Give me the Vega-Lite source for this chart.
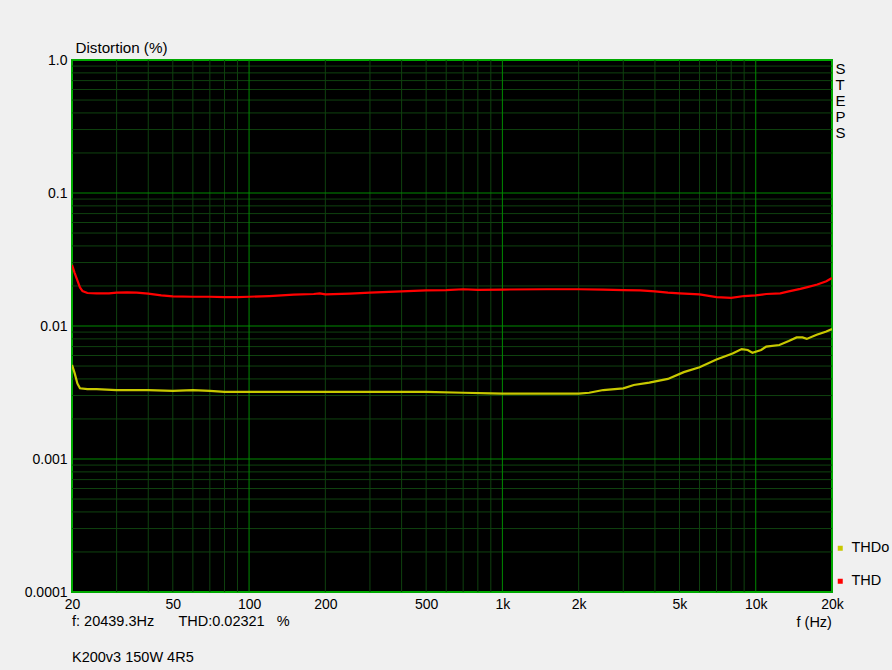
{
  "$schema": "https://vega.github.io/schema/vega-lite/v6.json",
  "width": 760,
  "height": 532,
  "autosize": {"type": "none"},
  "padding": {"left": 72, "top": 60, "right": 60, "bottom": 78},
  "background": "#f0f0f0",
  "config": {
    "font": "Liberation Sans",
    "view": {"fill": "#000000", "stroke": "#00a800", "strokeWidth": 2},
    "axis": {"domain": false, "ticks": false, "grid": false, "labelColor": "#000000", "titleColor": "#000000", "labelFont": "Liberation Sans", "titleFont": "Liberation Sans", "labelFontSize": 14, "titleFontSize": 14.5, "titleFontWeight": "normal"},
    "title": {"font": "Liberation Sans", "fontWeight": "normal", "fontSize": 14.5, "color": "#000000", "subtitleFont": "Liberation Sans", "subtitleFontSize": 14.5, "subtitleColor": "#000000"}
  },
  "title": {
    "text": "f: 20439.3Hz\u00a0\u00a0\u00a0\u00a0\u00a0\u00a0THD:0.02321\u00a0\u00a0\u00a0%",
    "subtitle": "K200v3 150W 4R5",
    "orient": "bottom",
    "anchor": "start",
    "frame": "group",
    "offset": -14,
    "subtitlePadding": 22
  },
  "datasets": {
    "curves": [
      {"f": 20, "v": 0.0288, "s": "THD"},
      {"f": 20.5, "v": 0.025, "s": "THD"},
      {"f": 21, "v": 0.022, "s": "THD"},
      {"f": 21.5, "v": 0.0195, "s": "THD"},
      {"f": 22, "v": 0.0183, "s": "THD"},
      {"f": 23, "v": 0.0177, "s": "THD"},
      {"f": 25, "v": 0.0176, "s": "THD"},
      {"f": 28, "v": 0.0176, "s": "THD"},
      {"f": 30, "v": 0.0178, "s": "THD"},
      {"f": 33, "v": 0.0179, "s": "THD"},
      {"f": 36, "v": 0.0178, "s": "THD"},
      {"f": 40, "v": 0.0175, "s": "THD"},
      {"f": 45, "v": 0.017, "s": "THD"},
      {"f": 50, "v": 0.0167, "s": "THD"},
      {"f": 60, "v": 0.0166, "s": "THD"},
      {"f": 70, "v": 0.0166, "s": "THD"},
      {"f": 80, "v": 0.0165, "s": "THD"},
      {"f": 90, "v": 0.0165, "s": "THD"},
      {"f": 100, "v": 0.0166, "s": "THD"},
      {"f": 120, "v": 0.0168, "s": "THD"},
      {"f": 150, "v": 0.0172, "s": "THD"},
      {"f": 180, "v": 0.0174, "s": "THD"},
      {"f": 190, "v": 0.0176, "s": "THD"},
      {"f": 200, "v": 0.0173, "s": "THD"},
      {"f": 250, "v": 0.0175, "s": "THD"},
      {"f": 300, "v": 0.0178, "s": "THD"},
      {"f": 400, "v": 0.0182, "s": "THD"},
      {"f": 500, "v": 0.0185, "s": "THD"},
      {"f": 600, "v": 0.0186, "s": "THD"},
      {"f": 700, "v": 0.0189, "s": "THD"},
      {"f": 800, "v": 0.0187, "s": "THD"},
      {"f": 1000, "v": 0.0188, "s": "THD"},
      {"f": 1500, "v": 0.0189, "s": "THD"},
      {"f": 2000, "v": 0.0189, "s": "THD"},
      {"f": 2500, "v": 0.0188, "s": "THD"},
      {"f": 3000, "v": 0.0186, "s": "THD"},
      {"f": 3500, "v": 0.0185, "s": "THD"},
      {"f": 4000, "v": 0.0182, "s": "THD"},
      {"f": 4500, "v": 0.0178, "s": "THD"},
      {"f": 5000, "v": 0.0176, "s": "THD"},
      {"f": 6000, "v": 0.0173, "s": "THD"},
      {"f": 7000, "v": 0.0165, "s": "THD"},
      {"f": 8000, "v": 0.0163, "s": "THD"},
      {"f": 9000, "v": 0.0168, "s": "THD"},
      {"f": 10000, "v": 0.017, "s": "THD"},
      {"f": 11000, "v": 0.0174, "s": "THD"},
      {"f": 12500, "v": 0.0176, "s": "THD"},
      {"f": 13500, "v": 0.0182, "s": "THD"},
      {"f": 15000, "v": 0.019, "s": "THD"},
      {"f": 16000, "v": 0.0196, "s": "THD"},
      {"f": 17500, "v": 0.0205, "s": "THD"},
      {"f": 19000, "v": 0.0217, "s": "THD"},
      {"f": 20000, "v": 0.023, "s": "THD"},
      {"f": 20, "v": 0.0051, "s": "THDo"},
      {"f": 20.5, "v": 0.0044, "s": "THDo"},
      {"f": 21, "v": 0.0037, "s": "THDo"},
      {"f": 21.5, "v": 0.0034, "s": "THDo"},
      {"f": 23, "v": 0.00335, "s": "THDo"},
      {"f": 25, "v": 0.00335, "s": "THDo"},
      {"f": 30, "v": 0.0033, "s": "THDo"},
      {"f": 40, "v": 0.0033, "s": "THDo"},
      {"f": 50, "v": 0.00325, "s": "THDo"},
      {"f": 60, "v": 0.0033, "s": "THDo"},
      {"f": 70, "v": 0.00325, "s": "THDo"},
      {"f": 80, "v": 0.0032, "s": "THDo"},
      {"f": 100, "v": 0.0032, "s": "THDo"},
      {"f": 200, "v": 0.0032, "s": "THDo"},
      {"f": 500, "v": 0.0032, "s": "THDo"},
      {"f": 700, "v": 0.00315, "s": "THDo"},
      {"f": 900, "v": 0.00312, "s": "THDo"},
      {"f": 1000, "v": 0.0031, "s": "THDo"},
      {"f": 1500, "v": 0.0031, "s": "THDo"},
      {"f": 2000, "v": 0.0031, "s": "THDo"},
      {"f": 2200, "v": 0.00315, "s": "THDo"},
      {"f": 2500, "v": 0.0033, "s": "THDo"},
      {"f": 3000, "v": 0.0034, "s": "THDo"},
      {"f": 3300, "v": 0.0036, "s": "THDo"},
      {"f": 3800, "v": 0.00375, "s": "THDo"},
      {"f": 4500, "v": 0.004, "s": "THDo"},
      {"f": 5200, "v": 0.0045, "s": "THDo"},
      {"f": 6000, "v": 0.0049, "s": "THDo"},
      {"f": 7000, "v": 0.0056, "s": "THDo"},
      {"f": 8100, "v": 0.0062, "s": "THDo"},
      {"f": 8800, "v": 0.0067, "s": "THDo"},
      {"f": 9300, "v": 0.0066, "s": "THDo"},
      {"f": 9700, "v": 0.0063, "s": "THDo"},
      {"f": 10500, "v": 0.0066, "s": "THDo"},
      {"f": 11000, "v": 0.007, "s": "THDo"},
      {"f": 12400, "v": 0.0072, "s": "THDo"},
      {"f": 13500, "v": 0.0077, "s": "THDo"},
      {"f": 14500, "v": 0.0082, "s": "THDo"},
      {"f": 15300, "v": 0.0082, "s": "THDo"},
      {"f": 15900, "v": 0.008, "s": "THDo"},
      {"f": 17400, "v": 0.0086, "s": "THDo"},
      {"f": 19000, "v": 0.0091, "s": "THDo"},
      {"f": 20000, "v": 0.0095, "s": "THDo"}
    ],
    "xminor": [{"f": 30},{"f": 40},{"f": 50},{"f": 60},{"f": 70},{"f": 80},{"f": 90},{"f": 200},{"f": 300},{"f": 400},{"f": 500},{"f": 600},{"f": 700},{"f": 800},{"f": 900},{"f": 2000},{"f": 3000},{"f": 4000},{"f": 5000},{"f": 6000},{"f": 7000},{"f": 8000},{"f": 9000}],
    "xmajor": [{"f": 100},{"f": 1000},{"f": 10000}],
    "yminor": [{"v": 0.0002},{"v": 0.0003},{"v": 0.0004},{"v": 0.0005},{"v": 0.0006},{"v": 0.0007},{"v": 0.0008},{"v": 0.0009},{"v": 0.002},{"v": 0.003},{"v": 0.004},{"v": 0.005},{"v": 0.006},{"v": 0.007},{"v": 0.008},{"v": 0.009},{"v": 0.02},{"v": 0.03},{"v": 0.04},{"v": 0.05},{"v": 0.06},{"v": 0.07},{"v": 0.08},{"v": 0.09},{"v": 0.2},{"v": 0.3},{"v": 0.4},{"v": 0.5},{"v": 0.6},{"v": 0.7},{"v": 0.8},{"v": 0.9}],
    "ymajor": [{"v": 0.001},{"v": 0.01},{"v": 0.1}]
  },
  "layer": [
    {
      "data": {"name": "curves"},
      "transform": [{"filter": "datum.s == 'THDo'"}],
      "mark": {"type": "line", "strokeWidth": 2, "clip": true, "opacity": 0},
      "encoding": {
        "x": {"field": "f", "type": "quantitative",
          "scale": {"type": "log", "domain": [20, 20000], "nice": false},
          "axis": {
            "values": [20,50,100,200,500,1000,2000,5000,10000,20000],
            "labelExpr": "datum.value >= 1000 ? (datum.value/1000) + 'k' : datum.value + ''",
            "labelPadding": 5,
            "labelFlush": false,
            "labelOverlap": false,
            "title": "f (Hz)",
            "titleAngle": 0,
            "titleAlign": "left",
            "titleBaseline": "alphabetic",
            "titleX": 724,
            "titleY": 34
          }
        },
        "y": {"field": "v", "type": "quantitative",
          "scale": {"type": "log", "domain": [0.0001, 1], "nice": false},
          "axis": {
            "values": [0.0001, 0.001, 0.01, 0.1, 1],
            "labelExpr": "datum.value == 1 ? '1.0' : datum.value + ''",
            "labelPadding": 5,
            "labelOverlap": false,
            "labelFlush": false,
            "title": "Distortion (%)",
            "titleFontSize": 15.2,
            "titleAngle": 0,
            "titleAlign": "left",
            "titleBaseline": "alphabetic",
            "titleX": 3,
            "titleY": -8
          }
        },
        "color": {"field": "s", "type": "nominal",
          "scale": {"domain": ["THDo", "THD"], "range": ["#c8c800", "#ff0000"]},
          "legend": {
            "orient": "none", "legendX": 761, "legendY": 481, "title": null,
            "symbolType": "square", "symbolSize": 4, "symbolStrokeWidth": 3, "symbolOpacity": 1,
            "labelFontSize": 14.5, "labelFont": "Liberation Sans", "labelColor": "#000000",
            "rowPadding": 17, "labelOffset": 4, "direction": "vertical"
          }
        }
      }
    },
    {
      "data": {"name": "xminor"},
      "mark": {"type": "rule", "color": "#0f420f", "strokeWidth": 1},
      "encoding": {"x": {"field": "f", "type": "quantitative"}}
    },
    {
      "data": {"name": "yminor"},
      "mark": {"type": "rule", "color": "#0f420f", "strokeWidth": 1},
      "encoding": {"y": {"field": "v", "type": "quantitative", "axis": null}}
    },
    {
      "data": {"name": "xmajor"},
      "mark": {"type": "rule", "color": "#008a00", "strokeWidth": 1},
      "encoding": {"x": {"field": "f", "type": "quantitative"}}
    },
    {
      "data": {"name": "ymajor"},
      "mark": {"type": "rule", "color": "#008a00", "strokeWidth": 1},
      "encoding": {"y": {"field": "v", "type": "quantitative", "axis": null}}
    },
    {
      "data": {"name": "curves"},
      "transform": [{"filter": "datum.s == 'THDo'"}],
      "mark": {"type": "line", "strokeWidth": 2.2, "clip": true},
      "encoding": {
        "x": {"field": "f", "type": "quantitative"},
        "y": {"field": "v", "type": "quantitative", "axis": null},
        "color": {"field": "s", "type": "nominal"}
      }
    },
    {
      "data": {"name": "curves"},
      "transform": [{"filter": "datum.s == 'THD'"}],
      "mark": {"type": "line", "strokeWidth": 2.2, "clip": true},
      "encoding": {
        "x": {"field": "f", "type": "quantitative"},
        "y": {"field": "v", "type": "quantitative",
          "axis": {
            "orient": "right", "labels": false,
            "title": ["S", "T", "E", "P", "S"],
            "titleAngle": 0, "titleAlign": "left", "titleBaseline": "top",
            "titleX": 3, "titleY": 1, "titleLineHeight": 16, "titleFontSize": 15
          }
        },
        "color": {"field": "s", "type": "nominal"}
      }
    }
  ],
  "resolve": {"axis": {"y": "independent"}}
}
